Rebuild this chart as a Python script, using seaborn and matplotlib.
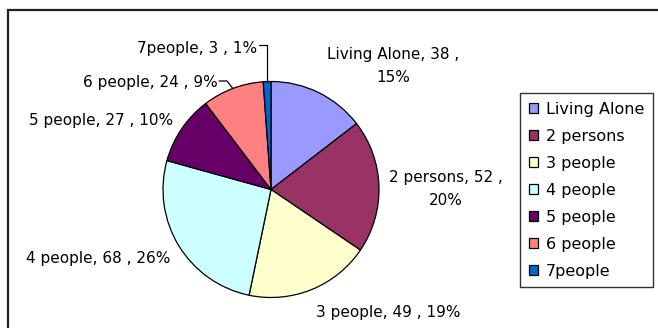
import numpy as np
import matplotlib
matplotlib.use("Agg")
import matplotlib.pyplot as plt
import matplotlib.patches as mpatches
import seaborn as sns

# ---- data ----
categories = ["Living Alone", "2 persons", "3 people", "4 people", "5 people", "6 people", "7people"]
counts = [38, 52, 49, 68, 27, 24, 3]
colors = ["#9999FF", "#993366", "#FFFFCC", "#CCFFFF", "#660066", "#FF8080", "#0066CC"]

sns.set_theme(style="white")
plt.rcParams['font.family'] = ['DejaVu Sans']
plt.rcParams['text.color'] = 'black'
palette = sns.color_palette(colors)

W, H = 658, 328
fig = plt.figure(figsize=(W / 100, H / 100), dpi=100)
ax = fig.add_axes([0, 0, 1, 1])

def Y(y):  # image-pixel y -> data y
    return H - y

cx, cy, R = 271, Y(189.5), 108
wedges, _ = ax.pie(counts, colors=palette, startangle=90, counterclock=False,
                   center=(cx, cy), radius=R, frame=True,
                   wedgeprops=dict(edgecolor="black", linewidth=0.9))
ax.set_xlim(0, W)
ax.set_ylim(0, H)
ax.set_aspect("equal")
ax.axis("off")

# outer chart border
ax.add_patch(mpatches.Rectangle((8, -20), W + 20, Y(10) + 20, fill=False,
                                edgecolor="#222222", linewidth=1.6, clip_on=False))

total = sum(counts)
pct = [round(100 * c / total) for c in counts]
fs = 11

def lab(i):
    return f"{categories[i]}, {counts[i]} , {pct[i]}%"

# label layout (image pixel positions)
ax.text(393, Y(66), f"{categories[0]}, {counts[0]} ,\n{pct[0]}%", ha="center", va="center",
        fontsize=fs, linespacing=1.7, color="black")
ax.text(446, Y(189), f"{categories[1]}, {counts[1]} ,\n{pct[1]}%", ha="center", va="center",
        fontsize=fs, linespacing=1.6, color="black")
ax.text(388, Y(312), lab(2), ha="center", va="center", fontsize=fs, color="black")
ax.text(98, Y(258), lab(3), ha="center", va="center", fontsize=fs, color="black")
ax.text(101, Y(120), lab(4), ha="center", va="center", fontsize=fs, color="black")
ax.text(218, Y(83), lab(5), ha="right", va="center", fontsize=fs, color="black")
ax.text(257, Y(49), lab(6), ha="right", va="center", fontsize=fs, color="black")

def edge_pt(w):
    th = np.deg2rad((w.theta1 + w.theta2) / 2)
    return w.center[0] + w.r * np.cos(th), w.center[1] + w.r * np.sin(th)

# leader lines for small slices
ex, ey = edge_pt(wedges[5])
ax.plot([219, 227, ex], [Y(81), Y(81), ey], color="black", lw=0.9)
ex, ey = edge_pt(wedges[6])
ax.plot([259, ex, ex], [Y(45), Y(45), ey], color="black", lw=0.9)

# legend
lfs = 11.5
handles = [mpatches.Patch(facecolor=c, edgecolor="black", linewidth=0.9) for c in palette]
leg = fig.legend(handles, categories, loc="upper left",
                 bbox_to_anchor=(520 / W, 1 - 93 / H), borderaxespad=0,
                 fontsize=lfs, frameon=True, fancybox=False, shadow=False,
                 handlelength=0.6, handleheight=0.6, handletextpad=0.45,
                 labelspacing=0.75, borderpad=0.55, labelcolor="black")
leg.get_frame().set_edgecolor("black")
leg.get_frame().set_linewidth(1.0)

fig.savefig("out.png", dpi=100, facecolor="white")
